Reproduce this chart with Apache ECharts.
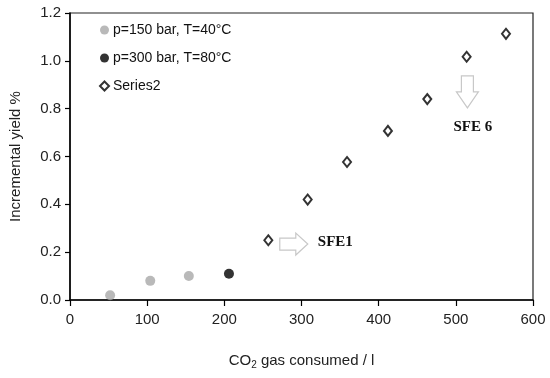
<!DOCTYPE html>
<html><head><meta charset="utf-8">
<script src="https://cdn.jsdelivr.net/npm/echarts@6/dist/echarts.min.js"></script>
<style>html,body{margin:0;padding:0;background:#fff}#c{width:550px;height:378px}</style>
</head><body><div id="c"></div>
<script>
const seriesNames = ['p=150 bar, T=40°C', 'p=300 bar, T=80°C', 'Series2'];
const gas150 = [52, 104, 154];
const yield150 = [0.02, 0.08, 0.10];
const gas300 = [206];
const yield300 = [0.11];
const gasS2 = [257, 308, 359, 412, 463, 514, 565];
const yieldS2 = [0.25, 0.42, 0.577, 0.707, 0.84, 1.017, 1.113];
const xTicks = [0, 100, 200, 300, 400, 500, 600];
const yTicks = [0.0, 0.2, 0.4, 0.6, 0.8, 1.0, 1.2];
const annotations = [
  {label: 'SFE1', arrow: 'right', at: [290, 0.234]},
  {label: 'SFE 6', arrow: 'down', at: [515, 0.87]}
];

const zip = (a, b) => a.map((v, i) => [v, b[i]]);
const font = 'Liberation Sans, Arial, sans-serif';
const chart = echarts.init(document.getElementById('c'), null, {renderer: 'canvas'});
const option = {
  animation: false,
  backgroundColor: '#fff',
  grid: {left: 64, right: 17, top: 13, bottom: 78, show: true, borderColor: '#222', borderWidth: 1.2},
  legend: {
    orient: 'vertical', left: 94, top: 18, itemGap: 14, itemWidth: 9, itemHeight: 9,
    textStyle: {fontFamily: font, fontSize: 14, color: '#111', padding: [0, 0, 0, -1]},
    data: seriesNames
  },
  xAxis: {
    type: 'value', min: xTicks[0], max: xTicks[xTicks.length - 1], interval: 100,
    splitLine: {show: false},
    axisLine: {lineStyle: {color: '#000', width: 1.5}},
    axisTick: {show: true, inside: false, length: 6, lineStyle: {color: '#000', width: 1.2}},
    axisLabel: {fontFamily: font, fontSize: 15, color: '#222', margin: 12},
    name: '{a|CO}{s|2}{a| gas consumed / l}', nameLocation: 'middle', nameGap: 52,
    nameTextStyle: {rich: {a: {fontFamily: font, fontSize: 15, color: '#222'}, s: {fontFamily: font, fontSize: 10, color: '#222', verticalAlign: 'bottom', padding: [8, 0, 0, 0]}}}
  },
  yAxis: {
    type: 'value', min: yTicks[0], max: yTicks[yTicks.length - 1], interval: 0.2,
    splitLine: {show: false},
    axisLine: {show: true, lineStyle: {color: '#000', width: 1.5}},
    axisTick: {show: true, inside: false, length: 5, lineStyle: {color: '#000', width: 1.2}},
    axisLabel: {fontFamily: font, fontSize: 15, color: '#222', margin: 9, formatter: v => v.toFixed(1)},
    name: 'Incremental yield %', nameLocation: 'middle', nameGap: 47, nameRotate: 90,
    nameTextStyle: {fontFamily: font, fontSize: 15, color: '#222'}
  },
  series: [
    {name: seriesNames[0], type: 'scatter', data: zip(gas150, yield150), symbol: 'circle', symbolSize: 10,
     itemStyle: {color: '#a8a8a8'}},
    {name: seriesNames[1], type: 'scatter', data: zip(gas300, yield300), symbol: 'circle', symbolSize: 10,
     itemStyle: {color: '#000'}},
    {name: seriesNames[2], type: 'scatter', data: zip(gasS2, yieldS2), symbol: 'diamond', symbolSize: [8, 10],
     itemStyle: {color: '#fff', borderColor: '#000', borderWidth: 2}}
  ]
};
chart.setOption(option);

const graphics = [];
annotations.forEach(a => {
  const p = chart.convertToPixel({gridIndex: 0}, a.at);
  const [cx, cy] = p;
  let pts;
  if (a.arrow === 'right') {
    pts = [[-14, -6], [2, -6], [2, -11], [14, 0], [2, 11], [2, 6], [-14, 6]];
    graphics.push({type: 'text', left: cx + 24, top: cy - 9,
      style: {text: a.label, font: 'bold 15px "Liberation Serif", "Times New Roman", serif', fill: '#111'}});
  } else {
    pts = [[-6, -16], [6, -16], [6, 0], [11, 0], [0, 16], [-11, 0], [-6, 0]];
    graphics.push({type: 'text', left: cx - 14, top: cy + 28,
      style: {text: a.label, font: 'bold 15px "Liberation Serif", "Times New Roman", serif', fill: '#111'}});
  }
  graphics.push({type: 'polygon', shape: {points: pts.map(q => [q[0] + cx, q[1] + cy])},
    style: {fill: '#fff', stroke: '#c8c8c8', lineWidth: 1.2}});
});
chart.setOption({graphic: graphics});
</script></body></html>
